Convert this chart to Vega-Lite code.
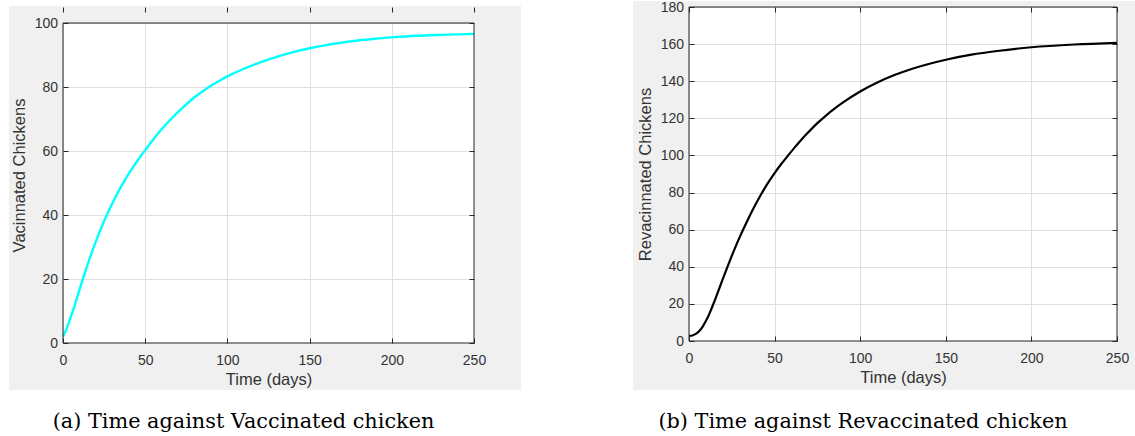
{
  "$schema": "https://vega.github.io/schema/vega-lite/v6.json",
  "padding": {"left": 8, "top": 0, "right": 0, "bottom": 0},
  "background": "white",
  "spacing": 111,
  "bounds": "full",
  "config": {
    "view": {"stroke": null, "fill": null},
    "axis": {
      "labelFont": "Liberation Sans",
      "labelFontSize": 14,
      "labelColor": "#333333",
      "labelFlush": false,
      "labelOverlap": false,
      "titleFont": "Liberation Sans",
      "titleFontSize": 16.5,
      "titleFontWeight": "normal",
      "titleColor": "#333333",
      "gridColor": "#dedede",
      "gridWidth": 1,
      "tickColor": "#262626",
      "tickSize": -5,
      "domain": false
    },
    "axisX": {"labelPadding": 15, "titlePadding": 4},
    "axisY": {"labelPadding": 10.5, "titlePadding": 7},
    "title": {
      "font": "DejaVu Serif",
      "fontSize": 20.8,
      "fontWeight": "normal",
      "color": "#000000",
      "orient": "bottom",
      "anchor": "middle"
    }
  },
  "hconcat": [
    {
      "width": 411,
      "height": 336,
      "title": {"text": "(a) Time against Vaccinated chicken", "dx": -25, "offset": 22},
      "resolve": {"axis": {"x": "independent", "y": "independent"}},
      "layer": [
        {
          "data": {"values": [{"x1": -32.85, "x2": 278.6, "y1": 105.31, "y2": 106.875}]},
          "mark": {"type": "rect", "fill": "#ffffff"},
          "encoding": {
            "x": {"field": "x1", "type": "quantitative", "scale": {"domain": [0, 250], "nice": false, "zero": false}, "axis": null},
            "x2": {"field": "x2"},
            "y": {"field": "y1", "type": "quantitative", "scale": {"domain": [0, 105], "nice": false, "zero": false}, "axis": null},
            "y2": {"field": "y2"}
          }
        },
        {
          "data": {"values": [
            {"x1": -32.85, "x2": 278.6, "y1": -14.69, "y2": 0},
            {"x1": -32.85, "x2": 278.6, "y1": 100, "y2": 105.31},
            {"x1": -32.85, "x2": 0, "y1": 0, "y2": 100},
            {"x1": 250, "x2": 278.6, "y1": 0, "y2": 100}
          ]},
          "mark": {"type": "rect", "fill": "#f0f0f0"},
          "encoding": {
            "x": {"field": "x1", "type": "quantitative", "scale": {"domain": [0, 250], "nice": false, "zero": false},
                  "axis": {"title": null, "values": [0, 50, 100, 150, 200, 250], "grid": true, "labels": false, "ticks": false, "zindex": 0, "orient": "bottom"}},
            "x2": {"field": "x2"},
            "y": {"field": "y1", "type": "quantitative", "scale": {"domain": [0, 105], "nice": false, "zero": false},
                  "axis": {"title": null, "values": [0, 20, 40, 60, 80, 100], "grid": true, "labels": false, "ticks": false, "zindex": 0, "orient": "left"}},
            "y2": {"field": "y2"}
          }
        },
        {
          "data": {"values": [
            {"t": 0, "v": 2.0}, {"t": 2, "v": 4.2}, {"t": 4, "v": 7.0}, {"t": 6, "v": 10.0},
            {"t": 8, "v": 13.2}, {"t": 10, "v": 16.6}, {"t": 12, "v": 19.9}, {"t": 15, "v": 24.6},
            {"t": 18, "v": 29.0}, {"t": 21, "v": 33.1}, {"t": 24, "v": 36.9}, {"t": 27, "v": 40.4},
            {"t": 30, "v": 43.6}, {"t": 34, "v": 47.6}, {"t": 38, "v": 51.2}, {"t": 42, "v": 54.5},
            {"t": 46, "v": 57.5}, {"t": 50, "v": 60.3}, {"t": 55, "v": 63.7}, {"t": 60, "v": 66.8},
            {"t": 65, "v": 69.6}, {"t": 70, "v": 72.2}, {"t": 75, "v": 74.6}, {"t": 80, "v": 76.8},
            {"t": 85, "v": 78.7}, {"t": 90, "v": 80.4}, {"t": 95, "v": 81.9}, {"t": 100, "v": 83.3},
            {"t": 110, "v": 85.7}, {"t": 120, "v": 87.7}, {"t": 130, "v": 89.4}, {"t": 140, "v": 90.9},
            {"t": 150, "v": 92.1}, {"t": 160, "v": 93.1}, {"t": 170, "v": 93.9}, {"t": 180, "v": 94.6},
            {"t": 190, "v": 95.1}, {"t": 200, "v": 95.5}, {"t": 215, "v": 96.0}, {"t": 230, "v": 96.3},
            {"t": 250, "v": 96.6}
          ]},
          "mark": {"type": "line", "color": "#00ffff", "strokeWidth": 2.4, "interpolate": "monotone"},
          "encoding": {
            "x": {"field": "t", "type": "quantitative", "scale": {"domain": [0, 250], "nice": false, "zero": false},
                  "axis": {"title": "Time (days)", "values": [0, 50, 100, 150, 200, 250], "grid": false, "zindex": 1, "orient": "bottom"}},
            "y": {"field": "v", "type": "quantitative", "scale": {"domain": [0, 105], "nice": false, "zero": false},
                  "axis": {"title": "Vacinnated Chickens", "values": [0, 20, 40, 60, 80, 100], "grid": false, "zindex": 1, "orient": "left"}}
          }
        },
        {
          "data": {"values": [{"x1": 0, "x2": 250, "y1": 0, "y2": 100}]},
          "mark": {"type": "rect", "fill": null, "stroke": "#262626", "strokeWidth": 1},
          "encoding": {
            "x": {"field": "x1", "type": "quantitative", "scale": {"domain": [0, 250], "nice": false, "zero": false},
                  "axis": {"title": null, "values": [0, 50, 100, 150, 200, 250], "labels": false, "grid": false, "zindex": 1, "orient": "top"}},
            "x2": {"field": "x2"},
            "y": {"field": "y1", "type": "quantitative", "scale": {"domain": [0, 105], "nice": false, "zero": false},
                  "axis": {"title": null, "values": [0, 20, 40, 60, 80, 100], "labels": false, "grid": false, "zindex": 1, "orient": "right"}},
            "y2": {"field": "y2"}
          }
        }
      ]
    },
    {
      "width": 428,
      "height": 334,
      "title": {"text": "(b) Time against Revaccinated chicken", "dx": -40, "offset": 22},
      "resolve": {"axis": {"x": "independent", "y": "independent"}},
      "layer": [
        {
          "data": {"values": [
            {"x1": -32.71, "x2": 261.1, "y1": -26.41, "y2": 0},
            {"x1": -32.71, "x2": 261.1, "y1": 180, "y2": 183.23},
            {"x1": -32.71, "x2": 0, "y1": 0, "y2": 180},
            {"x1": 250, "x2": 261.1, "y1": 0, "y2": 180}
          ]},
          "mark": {"type": "rect", "fill": "#f0f0f0"},
          "encoding": {
            "x": {"field": "x1", "type": "quantitative", "scale": {"domain": [0, 250], "nice": false, "zero": false},
                  "axis": {"title": null, "values": [0, 50, 100, 150, 200, 250], "grid": true, "labels": false, "ticks": false, "zindex": 0, "orient": "bottom"}},
            "x2": {"field": "x2"},
            "y": {"field": "y1", "type": "quantitative", "scale": {"domain": [0, 180], "nice": false, "zero": false},
                  "axis": {"title": null, "values": [0, 20, 40, 60, 80, 100, 120, 140, 160, 180], "grid": true, "labels": false, "ticks": false, "zindex": 0, "orient": "left"}},
            "y2": {"field": "y2"}
          }
        },
        {
          "data": {"values": [
            {"t": 0, "v": 2.7}, {"t": 2, "v": 3.0}, {"t": 4, "v": 3.8}, {"t": 6, "v": 5.4},
            {"t": 8, "v": 7.8}, {"t": 10, "v": 11.0}, {"t": 12, "v": 14.9}, {"t": 14, "v": 19.4},
            {"t": 16, "v": 24.2}, {"t": 18, "v": 29.1}, {"t": 20, "v": 34.0}, {"t": 22, "v": 38.9},
            {"t": 24, "v": 43.6}, {"t": 26, "v": 48.2}, {"t": 28, "v": 52.6}, {"t": 30, "v": 56.8},
            {"t": 32, "v": 60.8}, {"t": 35, "v": 66.6}, {"t": 38, "v": 72.1}, {"t": 41, "v": 77.2},
            {"t": 44, "v": 82.0}, {"t": 47, "v": 86.4}, {"t": 50, "v": 90.5}, {"t": 54, "v": 95.5},
            {"t": 58, "v": 100.1}, {"t": 62, "v": 104.6}, {"t": 66, "v": 108.9}, {"t": 70, "v": 112.8},
            {"t": 75, "v": 117.4}, {"t": 80, "v": 121.5}, {"t": 85, "v": 125.2}, {"t": 90, "v": 128.6},
            {"t": 100, "v": 134.5}, {"t": 110, "v": 139.3}, {"t": 120, "v": 143.3}, {"t": 130, "v": 146.6},
            {"t": 140, "v": 149.3}, {"t": 150, "v": 151.6}, {"t": 165, "v": 154.3}, {"t": 180, "v": 156.3},
            {"t": 200, "v": 158.3}, {"t": 225, "v": 159.8}, {"t": 250, "v": 160.7}
          ]},
          "mark": {"type": "line", "color": "#000000", "strokeWidth": 2.2, "interpolate": "monotone"},
          "encoding": {
            "x": {"field": "t", "type": "quantitative", "scale": {"domain": [0, 250], "nice": false, "zero": false},
                  "axis": {"title": "Time (days)", "values": [0, 50, 100, 150, 200, 250], "grid": false, "zindex": 1, "orient": "bottom"}},
            "y": {"field": "v", "type": "quantitative", "scale": {"domain": [0, 180], "nice": false, "zero": false},
                  "axis": {"title": "Revacinnated Chickens", "values": [0, 20, 40, 60, 80, 100, 120, 140, 160, 180], "grid": false, "zindex": 1, "orient": "left"}}
          }
        },
        {
          "data": {"values": [{"x1": 0, "x2": 250, "y1": 0, "y2": 180}]},
          "mark": {"type": "rect", "fill": null, "stroke": "#262626", "strokeWidth": 1},
          "encoding": {
            "x": {"field": "x1", "type": "quantitative", "scale": {"domain": [0, 250], "nice": false, "zero": false},
                  "axis": {"title": null, "values": [0, 50, 100, 150, 200, 250], "labels": false, "grid": false, "zindex": 1, "orient": "top"}},
            "x2": {"field": "x2"},
            "y": {"field": "y1", "type": "quantitative", "scale": {"domain": [0, 180], "nice": false, "zero": false},
                  "axis": {"title": null, "values": [0, 20, 40, 60, 80, 100, 120, 140, 160, 180], "labels": false, "grid": false, "zindex": 1, "orient": "right"}},
            "y2": {"field": "y2"}
          }
        }
      ]
    }
  ]
}
